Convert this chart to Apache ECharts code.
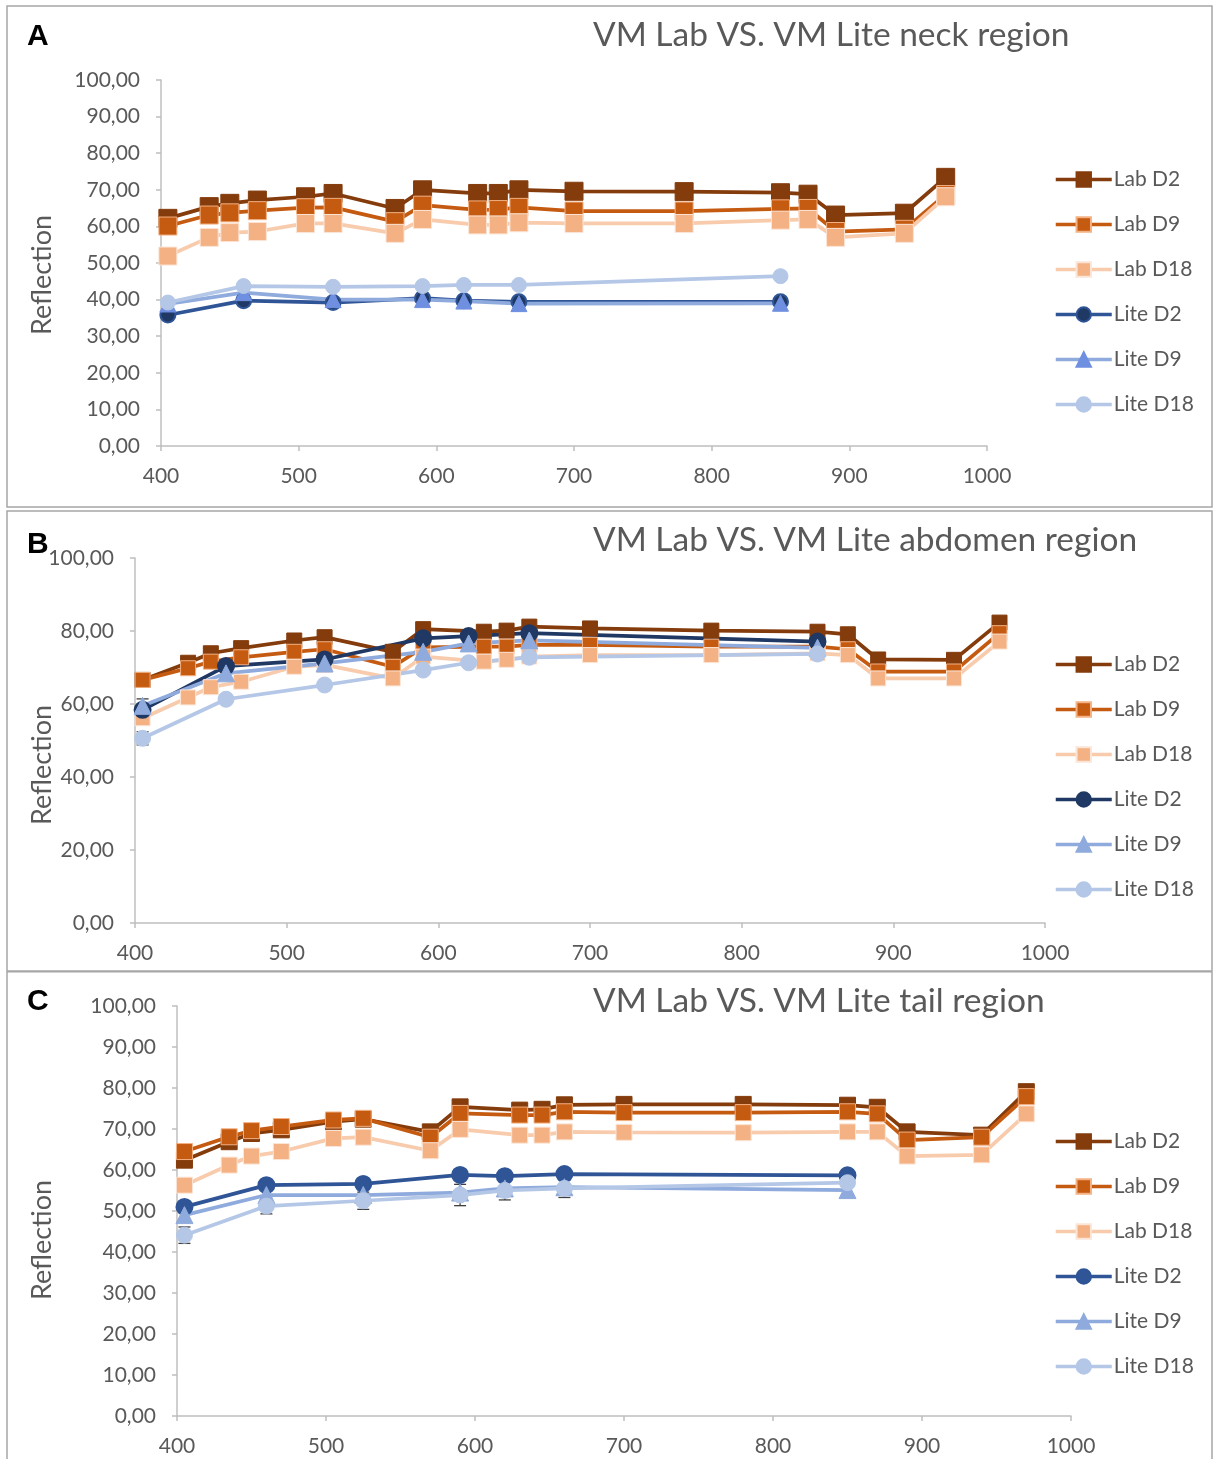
<!DOCTYPE html>
<html>
<head>
<meta charset="utf-8">
<script src="https://cdn.jsdelivr.net/npm/echarts@6/dist/echarts.min.js"></script>
<style>
  html, body { margin: 0; padding: 0; background: #fff; }
  .panel { position: absolute; left: 0; width: 1213px; }
</style>
</head>
<body>
<div id="pA" class="panel" style="top:0;height:509px"></div>
<div id="pB" class="panel" style="top:509px;height:462px"></div>
<div id="pC" class="panel" style="top:971px;height:488px"></div>
<script>
// ---------------- DATA ----------------
const seriesNames = ['Lab D2', 'Lab D9', 'Lab D18', 'Lite D2', 'Lite D9', 'Lite D18'];
const labWl  = [405, 435, 450, 470, 505, 525, 570, 590, 630, 645, 660, 700, 780, 850, 870, 890, 940, 970];
const liteWl = [405, 460, 525, 590, 620, 660, 850];
const xTicks = [400, 500, 600, 700, 800, 900, 1000];

// Panel A: neck region
const aLabD2   = [62.2, 65.4, 66.3, 67.2, 68.1, 69.0, 64.9, 70.0, 69.0, 69.0, 70.0, 69.6, 69.5, 69.2, 68.8, 63.1, 63.6, 73.4];
const aLabD9   = [60.1, 63.1, 63.7, 64.3, 65.1, 65.2, 61.3, 65.8, 64.5, 64.6, 65.2, 64.2, 64.2, 64.8, 64.9, 58.6, 59.2, 68.7];
const aLabD18  = [51.9, 57.0, 58.3, 58.6, 60.8, 60.8, 58.1, 61.9, 60.4, 60.4, 61.0, 60.8, 60.8, 61.7, 61.9, 57.0, 58.1, 68.1];
const aLiteD2  = [35.8, 39.7, 39.2, 40.4, 39.7, 39.4, 39.4];
const aLiteD9  = [38.8, 41.9, 40.0, 40.0, 39.6, 38.9, 39.0];
const aLiteD18 = [39.2, 43.7, 43.5, 43.7, 44.0, 44.0, 46.4];

// Panel B: abdomen region
const bLabD2   = [66.6, 71.3, 73.9, 75.3, 77.4, 78.3, 74.3, 80.5, 79.8, 80.1, 81.2, 80.7, 80.1, 79.8, 79.1, 72.2, 72.1, 82.3];
const bLabD9   = [66.6, 69.8, 71.6, 72.8, 74.3, 75.0, 70.2, 75.5, 75.7, 75.7, 76.2, 76.2, 75.7, 75.7, 75.0, 68.9, 68.9, 79.4];
const bLabD18  = [56.1, 61.8, 64.6, 66.1, 70.2, 70.7, 67.0, 73.0, 71.6, 72.1, 73.0, 73.4, 73.4, 73.9, 73.4, 67.0, 67.0, 77.1];
const bLiteD2  = [58.4, 70.4, 72.2, 78.0, 78.6, 79.4, 77.1];
const bLiteD9  = [59.5, 68.4, 71.1, 74.3, 76.6, 77.4, 75.4];
const bLiteD18 = [50.6, 61.3, 65.2, 69.3, 71.3, 72.8, 73.7];
const bErrLiteD2  = [3.0, 0, 0, 0, 0, 0, 0];
const bErrLiteD18 = [1.8, 0, 0, 0, 0, 0, 0];

// Panel C: tail region
const cLabD2   = [62.4, 66.9, 68.9, 69.8, 71.8, 72.4, 69.3, 75.4, 74.6, 74.8, 75.9, 76.0, 76.0, 75.8, 75.3, 69.3, 68.5, 79.1];
const cLabD9   = [64.5, 68.1, 69.6, 70.6, 72.2, 72.6, 68.0, 73.8, 73.4, 73.4, 74.2, 74.0, 74.0, 74.2, 73.7, 67.3, 68.0, 77.9];
const cLabD18  = [56.3, 61.2, 63.4, 64.5, 67.7, 68.0, 64.7, 69.9, 68.5, 68.5, 69.3, 69.2, 69.1, 69.3, 69.3, 63.4, 63.7, 73.7];
const cLiteD2  = [51.0, 56.3, 56.6, 58.8, 58.5, 59.0, 58.7];
const cLiteD9  = [49.0, 53.9, 53.9, 54.5, 55.5, 55.8, 55.1];
const cLiteD18 = [44.1, 51.2, 52.5, 53.9, 55.0, 55.5, 56.9];
const cErrLiteD18 = [2.0, 1.9, 2.1, 2.6, 2.3, 2.2, 0];

// ---------------- BUILD ----------------
const FONT = 'Lato, "Open Sans", sans-serif';
const GREY = '#595959';
const fmt = v => v.toFixed(2).replace('.', ',');
const pairs = (xs, ys) => xs.map((x, i) => [x, ys[i]]);

function lineSeries(name, xs, ys, st) {
  return {
    name, type: 'line', data: pairs(xs, ys),
    symbol: st.symbol, symbolSize: st.size,
    lineStyle: { color: st.line, width: 3.75 },
    itemStyle: { color: st.fill, borderColor: st.border, borderWidth: st.bw || 1 },
    emphasis: { disabled: true },
    z: 2, animation: false
  };
}

function errorSeries(xs, ys, errs) {
  const data = xs.map((x, i) => [x, ys[i], errs[i]]).filter(d => d[2] > 0);
  return {
    type: 'custom', data, z: 1, silent: true, animation: false,
    renderItem(params, api) {
      const x = api.value(0), y = api.value(1), e = api.value(2);
      const hi = api.coord([x, y + e]), lo = api.coord([x, y - e]);
      const w = 6;
      const st = { stroke: '#404040', lineWidth: 1.3 };
      return { type: 'group', children: [
        { type: 'line', shape: { x1: hi[0], y1: hi[1], x2: lo[0], y2: lo[1] }, style: st },
        { type: 'line', shape: { x1: hi[0] - w, y1: hi[1], x2: hi[0] + w, y2: hi[1] }, style: st },
        { type: 'line', shape: { x1: lo[0] - w, y1: lo[1], x2: lo[0] + w, y2: lo[1] }, style: st }
      ]};
    }
  };
}

function makePanel(el, cfg) {
  const chart = echarts.init(document.getElementById(el), null, { renderer: 'canvas' });
  const axisLine = { show: true, lineStyle: { color: '#BFBFBF', width: 1.5 } };
  const series = [
    lineSeries(seriesNames[0], labWl, cfg.lab[0], cfg.st[0]),
    lineSeries(seriesNames[1], labWl, cfg.lab[1], cfg.st[1]),
    lineSeries(seriesNames[2], labWl, cfg.lab[2], cfg.st[2]),
    lineSeries(seriesNames[3], liteWl, cfg.lite[0], cfg.st[3]),
    lineSeries(seriesNames[4], liteWl, cfg.lite[1], cfg.st[4]),
    lineSeries(seriesNames[5], liteWl, cfg.lite[2], cfg.st[5])
  ].concat(cfg.errors || []);
  chart.setOption({
    animation: false,
    textStyle: { fontFamily: FONT },
    grid: cfg.grid,
    xAxis: {
      type: 'value', min: 400, max: 1000, interval: 100,
      axisLine, splitLine: { show: false },
      axisTick: { show: true, length: 5, lineStyle: { color: '#BFBFBF', width: 1.5 } },
      axisLabel: { color: GREY, fontSize: 21, fontFamily: FONT, margin: 20,
        formatter: v => xTicks.includes(v) ? String(v) : '' }
    },
    yAxis: {
      type: 'value', min: 0, max: 100, interval: cfg.yInt,
      axisLine, splitLine: { show: false },
      axisTick: { show: true, length: 5, lineStyle: { color: '#BFBFBF', width: 1.5 } },
      axisLabel: { color: GREY, fontSize: 21, fontFamily: FONT, margin: 21, formatter: fmt }
    },
    legend: {
      orient: 'vertical', left: 1049, top: cfg.legendTop,
      itemWidth: 56, itemHeight: 18, itemGap: 24,
      data: seriesNames,
      lineStyle: { width: 3.5 },
      textStyle: { color: GREY, fontSize: 21, fontFamily: FONT, padding: [0, 0, 0, -3] },
      selectedMode: false
    },
    graphic: [
      { type: 'rect', shape: cfg.frame, style: { fill: 'none', stroke: '#A6A6A6', lineWidth: 1.5 }, silent: true },
      { type: 'text', x: 27, y: cfg.letterY, style: { text: cfg.letter, font: 'bold 30px "Liberation Sans", Arial, sans-serif', fill: '#000', textVerticalAlign: 'middle' } },
      { type: 'text', x: 593, y: cfg.titleY, style: { text: cfg.title, font: '33.5px ' + FONT, fill: GREY, textVerticalAlign: 'middle' } },
      { type: 'text', x: 42, y: cfg.nameY, rotation: Math.PI / 2, style: { text: 'Reflection', font: '27px ' + FONT, fill: GREY, textAlign: 'center', textVerticalAlign: 'middle' } }
    ],
    series
  });
}

const labStyles = [
  { symbol: 'rect', line: '#843C0C', fill: '#843C0C', border: '#843C0C' },
  { symbol: 'rect', line: '#C55A11', fill: '#C55A11', border: '#F4B183' },
  { symbol: 'rect', line: '#F8CBAD', fill: '#F4B183', border: '#FBE5D6' }
];
function styles(labSize, liteSize, liteD2Line, liteD2Fill, liteD9Fill) {
  return [
    Object.assign({ size: labSize }, labStyles[0]),
    Object.assign({ size: labSize }, labStyles[1]),
    Object.assign({ size: labSize }, labStyles[2]),
    { symbol: 'circle', size: liteSize, line: liteD2Line, fill: liteD2Fill, border: liteD2Line, bw: 2 },
    { symbol: 'triangle', size: liteSize + 1, line: '#8FAADC', fill: liteD9Fill, border: liteD9Fill },
    { symbol: 'circle', size: liteSize, line: '#B4C7E7', fill: '#B4C7E7', border: '#B4C7E7' }
  ];
}

makePanel('pA', {
  grid: { left: 161, right: 226, top: 80, bottom: 63 },
  yInt: 10, legendTop: 164,
  frame: { x: 7, y: 6, width: 1205, height: 501 },
  letter: 'A', letterY: 37, title: 'VM Lab VS. VM Lite neck region', titleY: 35, nameY: 275,
  lab: [aLabD2, aLabD9, aLabD18], lite: [aLiteD2, aLiteD9, aLiteD18],
  st: styles(18, 15, '#2F5597', '#203864', '#6F8FE0')
});

makePanel('pB', {
  grid: { left: 135, right: 168, top: 49, bottom: 48 },
  yInt: 20, legendTop: 140,
  frame: { x: 7, y: 2, width: 1205, height: 460 },
  letter: 'B', letterY: 36, title: 'VM Lab VS. VM Lite abdomen region', titleY: 31, nameY: 256,
  lab: [bLabD2, bLabD9, bLabD18], lite: [bLiteD2, bLiteD9, bLiteD18],
  st: styles(15, 16, '#203864', '#203864', '#8FAADC'),
  errors: [errorSeries(liteWl, bLiteD2, bErrLiteD2), errorSeries(liteWl, bLiteD18, bErrLiteD18)]
});

makePanel('pC', {
  grid: { left: 177, right: 142, top: 35, bottom: 43 },
  yInt: 10, legendTop: 155,
  frame: { x: 7, y: 0.75, width: 1205, height: 500 },
  letter: 'C', letterY: 31, title: 'VM Lab VS. VM Lite tail region', titleY: 30, nameY: 269,
  lab: [cLabD2, cLabD9, cLabD18], lite: [cLiteD2, cLiteD9, cLiteD18],
  st: styles(16, 16, '#2F5597', '#2F5597', '#8FAADC'),
  errors: [errorSeries(liteWl, cLiteD18, cErrLiteD18)]
});
</script>
</body>
</html>
